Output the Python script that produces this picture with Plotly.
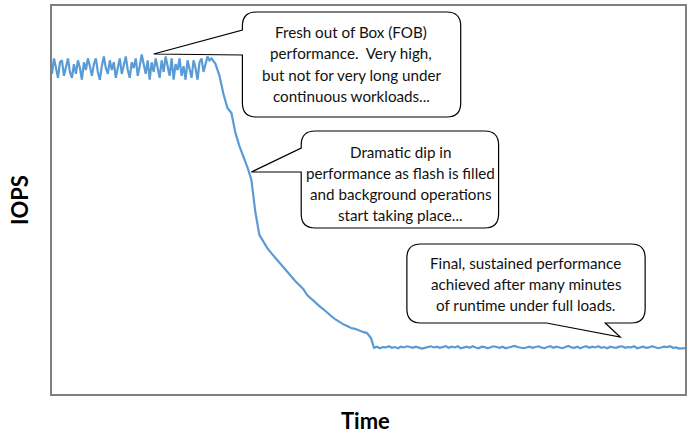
import plotly.graph_objects as go

# ---------------- data ----------------
# Phase 1: fresh-out-of-box, noisy high IOPS
t_fob = list(range(0, 162, 2))
iops_fob = [82.5, 86.5, 84.0, 81.5, 85.5, 86.0, 82.0, 84.5, 86.5, 83.0,
            81.5, 85.0, 82.5, 86.0, 84.0, 81.0, 85.5, 83.5, 86.5, 84.5,
            82.0, 85.0, 86.5, 83.0, 81.0, 84.5, 87.0, 84.0, 82.5, 86.0,
            83.5, 85.5, 81.5, 84.0, 86.5, 82.5, 85.0, 87.0, 83.5, 81.5,
            85.5, 84.0, 86.5, 82.0, 84.5, 87.5, 85.0, 82.5, 86.0, 81.0,
            85.5, 83.0, 86.5, 84.0, 81.5, 86.0, 83.0, 87.0, 84.5, 82.0,
            86.5, 81.0, 85.0, 83.5, 86.5, 82.0, 84.5, 81.0, 86.0, 83.5,
            81.5, 86.0, 84.0, 81.0, 85.5, 86.5, 83.0, 85.0, 87.0, 86.0, 86.5]

# Phase 2: dramatic dip
t_dip = list(range(164, 324, 4))
iops_dip = [85.1, 82.0, 77.3, 73.7, 72.4, 67.3, 63.9, 61.3, 58.5, 55.2,
            46.9, 41.0, 39.2, 37.6, 36.3, 35.1, 33.8, 32.7, 31.4, 30.2,
            29.1, 28.1, 27.1, 25.5, 24.5, 23.5, 22.7, 21.9, 20.9, 20.1,
            19.3, 18.6, 18.0, 17.5, 17.0, 16.8, 16.5, 16.0, 15.7, 14.4]

# Phase 3: sustained steady-state performance
t_ss = list(range(323, 638, 3))
iops_ss = [11.9, 12.2, 11.8, 12.1, 12.0, 12.3, 11.9, 12.1, 11.8, 12.2,
           12.0, 12.3, 12.1, 11.9, 12.2, 12.0, 11.7, 11.9, 12.2, 12.3,
           12.0, 12.2, 11.9, 12.1, 12.3, 11.9, 12.2, 12.0, 12.3, 11.8,
           12.1, 12.2, 11.9, 12.3, 12.0, 11.8, 12.2, 12.1, 11.8, 12.0,
           12.3, 12.1, 11.9, 12.2, 11.8, 12.0, 12.2, 12.4, 12.1, 11.9,
           11.8, 12.0, 12.2, 11.9, 12.1, 12.3, 12.0, 11.8, 12.1, 12.3,
           11.9, 12.2, 12.0, 11.8, 12.1, 12.4, 12.0, 11.9, 12.2, 11.8,
           12.1, 12.3, 11.9, 12.2, 12.0, 12.3, 11.9, 12.1, 11.8, 12.2,
           12.0, 11.9, 12.2, 12.3, 11.9, 12.1, 12.0, 12.3, 11.8, 12.1,
           12.2, 11.9, 12.0, 12.3, 12.1, 11.8, 12.0, 12.2, 12.1, 12.3,
           11.9, 12.0, 11.7, 11.8, 11.8]

time = t_fob + t_dip + t_ss[:len(iops_ss)]
iops = iops_fob + iops_dip + iops_ss

callout_fob = ["Fresh out of Box (FOB)", "performance.\u00a0 Very high,",
               "but not for very long under", "continuous workloads..."]
callout_dip = ["Dramatic dip in", "performance as flash is filled",
               "and background operations", "start taking place..."]
callout_ss = ["Final, sustained performance", "achieved after many minutes",
              "of runtime under full loads."]

# ---------------- layout helpers ----------------
W, H = 691, 434
PL, PR, PT, PB = 52, 687, 6, 394


def P(x, y):
    return f"{(x - PL) / (PR - PL):.5f},{(PB - y) / (PB - PT):.5f}"


def rounded_box_left_tail(L, R, T, B, r, a1, a2, tip):
    return (f"M {P(L, a1)} L {P(L, T + r)} Q {P(L, T)} {P(L + r, T)} "
            f"L {P(R - r, T)} Q {P(R, T)} {P(R, T + r)} "
            f"L {P(R, B - r)} Q {P(R, B)} {P(R - r, B)} "
            f"L {P(L + r, B)} Q {P(L, B)} {P(L, B - r)} "
            f"L {P(L, a2)} L {P(*tip)} Z")


def rounded_box_bottom_tail(L, R, T, B, r, a1, a2, tip):
    return (f"M {P(L + r, T)} L {P(R - r, T)} Q {P(R, T)} {P(R, T + r)} "
            f"L {P(R, B - r)} Q {P(R, B)} {P(R - r, B)} "
            f"L {P(a2, B)} L {P(*tip)} L {P(a1, B)} "
            f"L {P(L + r, B)} Q {P(L, B)} {P(L, B - r)} "
            f"L {P(L, T + r)} Q {P(L, T)} {P(L + r, T)} Z")


fig = go.Figure()
fig.add_trace(go.Scatter(x=time, y=iops, mode="lines",
                         line=dict(color="#5B9BD5", width=2.2),
                         hoverinfo="skip", showlegend=False))

shape_style = dict(type="path", xref="paper", yref="paper",
                   line=dict(color="#000000", width=1.2),
                   fillcolor="white", layer="above")
shapes = [
    dict(path=rounded_box_left_tail(243, 462, 12, 117, 14, 30, 55, (154, 54)), **shape_style),
    dict(path=rounded_box_left_tail(302, 500, 131, 228, 14, 148, 172, (252, 172)), **shape_style),
    dict(path=rounded_box_bottom_tail(408, 647, 244, 323, 14, 548, 607, (622, 337)), **shape_style),
]

annotations = []
font = dict(family="Lato, 'Open Sans', sans-serif", size=15.2, color="#111111")


def add_lines(lines, cx, ys):
    for txt, y in zip(lines, ys):
        annotations.append(dict(text=txt, xref="paper", yref="paper",
                                x=(cx - PL) / (PR - PL), y=(PB - y) / (PB - PT),
                                xanchor="center", yanchor="middle",
                                showarrow=False, font=font))


add_lines(callout_fob, 352, [32, 53, 75, 96])
add_lines(callout_dip, 402, [152, 173, 194, 215])
add_lines(callout_ss, 527, [263, 284, 305])

annotations.append(dict(text="<b>Time</b>", xref="paper", yref="paper",
                        x=(366 - PL) / (PR - PL), y=(PB - 420) / (PB - PT),
                        xanchor="center", yanchor="middle", showarrow=False,
                        font=dict(family="Lato, sans-serif", size=22, color="#000")))
annotations.append(dict(text="<b>IOPS</b>", xref="paper", yref="paper",
                        x=(19 - PL) / (PR - PL), y=(PB - 200) / (PB - PT),
                        xanchor="center", yanchor="middle", showarrow=False,
                        textangle=-90,
                        font=dict(family="Lato, sans-serif", size=22, color="#000")))

axis_common = dict(showgrid=False, zeroline=False, showticklabels=False,
                   ticks="", showline=True, mirror=True,
                   linecolor="#808080", linewidth=1.5)
fig.update_layout(
    width=W, height=H,
    margin=dict(l=PL, r=W - PR, t=PT, b=H - PB),
    paper_bgcolor="white", plot_bgcolor="white",
    xaxis=dict(range=[0, 635], **axis_common),
    yaxis=dict(range=[0, 100], **axis_common),
    shapes=shapes, annotations=annotations,
)

fig.write_html("out.html",
               config={"displayModeBar": False},
               post_script="document.body.style.margin='0';"
                           "document.body.style.padding='0';"
                           "document.body.style.overflow='hidden';")
